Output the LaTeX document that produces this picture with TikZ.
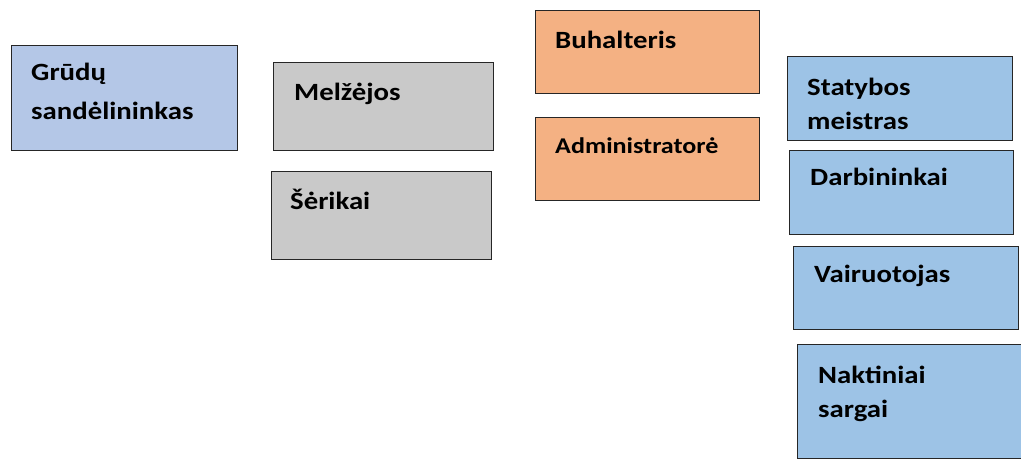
\documentclass[tikz,border=0pt]{standalone}
\usepackage{fontspec}
\setmainfont{Carlito}
\newfontfamily\boxfont[FakeStretch=1.16]{Carlito}
\usetikzlibrary{positioning}
\definecolor{grudcol}{HTML}{B4C7E7}
\definecolor{greycol}{HTML}{C9C9C9}
\definecolor{orangecol}{HTML}{F4B183}
\definecolor{bluecol}{HTML}{9DC3E6}
\tikzset{
	box/.style={draw=black!85, line width=0.9pt, anchor=north west, inner sep=0pt},
	boxtxt/.style={anchor=base west, inner sep=0pt, align=left,
		font=\boxfont\bfseries\fontsize{24.8}{34}\selectfont}
}
\begin{document}
\begin{tikzpicture}[x=1pt,y=-1pt]
			\useasboundingbox (0,0) rectangle (1021,459);
			% boxes
			\node[box, fill=grudcol, minimum width=226, minimum height=105] (grudai) at (11,45) {};
			\node[box, fill=greycol, minimum width=220, minimum height=88] (melzejos) at (273,62) {};
			\node[box, fill=greycol, minimum width=220, minimum height=88] (serikai) at (271,171) {};
			\node[box, fill=orangecol, minimum width=224, minimum height=83] (buhalteris) at (535,10) {};
			\node[box, fill=orangecol, minimum width=224, minimum height=83] (admin) at (535,117) {};
			\node[box, fill=bluecol, minimum width=225, minimum height=84] (meistras) at (787,56) {};
			\node[box, fill=bluecol, minimum width=224, minimum height=84] (darbininkai) at (789,150) {};
			\node[box, fill=bluecol, minimum width=225, minimum height=83] (vairuotojas) at (793,246) {};
			\node[box, fill=bluecol, minimum width=224, minimum height=114] (sargai) at (797,344) {};
			% texts (base = last line)
			\node[boxtxt] (grudaiT) at ([shift={(20,74)}]grudai.north west) {Grūdų\\[5pt]sandėlininkas};
			\node[boxtxt] (melzejosT) at ([shift={(21,38)}]melzejos.north west) {Melžėjos};
			\node[boxtxt] (serikaiT) at ([shift={(19,38)}]serikai.north west) {Šėrikai};
			\node[boxtxt] (buhalterisT) at ([shift={(20,38)}]buhalteris.north west) {Buhalteris};
			\node[boxtxt, font=\boxfont\bfseries\fontsize{22.5}{30}\selectfont] (adminT) at ([shift={(20,36)}]admin.north west) {Administratorė};
			\node[boxtxt] (meistrasT) at ([shift={(20,73)}]meistras.north west) {Statybos\\meistras};
			\node[boxtxt] (darbininkaiT) at ([shift={(21,35)}]darbininkai.north west) {Darbininkai};
			\node[boxtxt] (vairuotojasT) at ([shift={(21,36)}]vairuotojas.north west) {Vairuotojas};
			\node[boxtxt] (sargaiT) at ([shift={(21,73)}]sargai.north west) {Naktiniai\\sargai};
\end{tikzpicture}
\end{document}
